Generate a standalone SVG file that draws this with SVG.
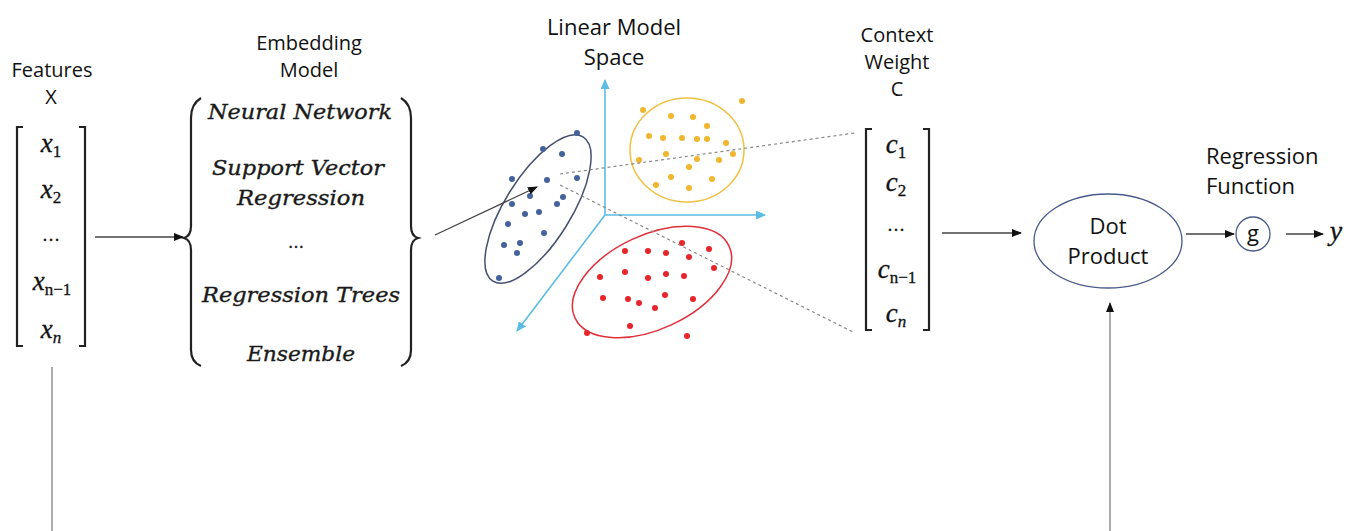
<svg xmlns="http://www.w3.org/2000/svg" width="1356" height="531" viewBox="0 0 1356 531">
<defs>
<style>
.lbl{font-family:"Open Sans",Lato,"Liberation Sans",sans-serif;font-size:20px;fill:#111;text-anchor:middle}
.big{font-size:22px}
.math{font-family:"Liberation Serif","DejaVu Serif",serif;font-style:italic;font-size:27px;fill:#111;text-anchor:middle;stroke:#111;stroke-width:0.3}
.emb{font-family:"DejaVu Serif","Liberation Serif",serif;font-style:italic;font-size:21px;fill:#1a1a1a;text-anchor:middle;stroke:#1a1a1a;stroke-width:0.35}
.sub{font-style:normal;font-size:17px}
.brk{fill:none;stroke:#222;stroke-width:2.2}
.arr{stroke:#444;stroke-width:1.3;fill:none;marker-end:url(#ah)}
.vline{stroke:#999;stroke-width:1.6;fill:none}
.axis{stroke:#5bbde3;stroke-width:1.6;fill:none;marker-end:url(#ax)}
.dash{stroke:#888;stroke-width:1.2;stroke-dasharray:3 3;fill:none}
.bd{fill:#44639c}
.yd{fill:#f0b62e}
.rd{fill:#e8242b}
</style>
<marker id="ah" markerWidth="10" markerHeight="8" refX="9" refY="4" orient="auto" markerUnits="userSpaceOnUse"><path d="M0,0 L10,4 L0,8 z" fill="#111"/></marker>
<marker id="ax" markerWidth="10" markerHeight="9" refX="9" refY="4.5" orient="auto" markerUnits="userSpaceOnUse"><path d="M0,0 L10,4.5 L0,9 z" fill="#5bbde3"/></marker>
</defs>
<rect width="1356" height="531" fill="#fff"/>

<g id="features">
<text class="lbl" x="52" y="77">Features</text>
<text class="lbl" x="51" y="104">X</text>
<path class="brk" d="M23 127 L17 127 L17 346 L23 346"/>
<path class="brk" d="M79 127 L85 127 L85 346 L79 346"/>
<text class="math" x="51" y="152">x<tspan class="sub" dy="5">1</tspan></text>
<text class="math" x="51" y="198">x<tspan class="sub" dy="5">2</tspan></text>
<text class="math" x="51" y="241" style="font-style:normal;font-size:18px">…</text>
<text class="math" x="52" y="290">x<tspan class="sub" dy="5">n−1</tspan></text>
<text class="math" x="51" y="338">x<tspan class="sub" dy="5" style="font-style:italic">n</tspan></text>
</g>

<g id="embedding">
<text class="lbl" x="309" y="50">Embedding</text>
<text class="lbl" x="309" y="77">Model</text>
<path class="brk" d="M201 98 Q191 104 191 118 L191 226 Q191 236 184 238 Q191 240 191 250 L191 350 Q191 362 201 366"/>
<path class="brk" d="M401 98 Q411 104 411 118 L411 226 Q411 236 418 238 Q411 240 411 250 L411 350 Q411 362 401 366"/>
<text class="emb" x="300" y="119" textLength="184" lengthAdjust="spacingAndGlyphs">Neural Network</text>
<text class="emb" x="298" y="175" textLength="172" lengthAdjust="spacingAndGlyphs">Support Vector</text>
<text class="emb" x="301" y="205" textLength="128" lengthAdjust="spacingAndGlyphs">Regression</text>
<text class="emb" x="296" y="248" style="font-style:normal;font-size:16px">…</text>
<text class="emb" x="301" y="302" textLength="198" lengthAdjust="spacingAndGlyphs">Regression Trees</text>
<text class="emb" x="301" y="361" textLength="108" lengthAdjust="spacingAndGlyphs">Ensemble</text>
</g>

<g id="linear-model-space">
<text class="lbl big" x="614" y="35">Linear Model</text>
<text class="lbl big" x="614" y="65">Space</text>
<line class="axis" x1="605" y1="215" x2="605" y2="80"/>
<line class="axis" x1="605" y1="215" x2="765" y2="215"/>
<line class="axis" x1="605" y1="215" x2="517" y2="331"/>
<ellipse cx="538" cy="209" rx="85" ry="33" transform="rotate(-58 538 209)" fill="none" stroke="#44506e" stroke-width="1.5"/>
<ellipse cx="687" cy="150" rx="57" ry="52" fill="none" stroke="#f0c040" stroke-width="1.5"/>
<ellipse cx="652" cy="282" rx="85" ry="47" transform="rotate(-25 652 282)" fill="none" stroke="#e0303a" stroke-width="1.5"/>
<g class="bd">
<circle cx="577" cy="133" r="3"/><circle cx="543" cy="149" r="3"/><circle cx="562" cy="154" r="3"/><circle cx="512" cy="179" r="3"/><circle cx="547" cy="180" r="3"/><circle cx="577" cy="178" r="3"/><circle cx="530" cy="196" r="3"/><circle cx="563" cy="197" r="3"/><circle cx="512" cy="204" r="3"/><circle cx="557" cy="204" r="3"/><circle cx="525" cy="214" r="3"/><circle cx="539" cy="212" r="3"/><circle cx="508" cy="224" r="3"/><circle cx="544" cy="233" r="3"/><circle cx="504" cy="245" r="3"/><circle cx="520" cy="243" r="3"/><circle cx="517" cy="253" r="3"/><circle cx="499" cy="278" r="3"/>
</g>
<g class="yd">
<circle cx="643" cy="110" r="3"/><circle cx="742" cy="101" r="3"/><circle cx="671" cy="116" r="3"/><circle cx="693" cy="117" r="3"/><circle cx="707" cy="126" r="3"/><circle cx="649" cy="136" r="3"/><circle cx="663" cy="138" r="3"/><circle cx="682" cy="138" r="3"/><circle cx="697" cy="139" r="3"/><circle cx="707" cy="139" r="3"/><circle cx="726" cy="143" r="3"/><circle cx="639" cy="160" r="3"/><circle cx="666" cy="154" r="3"/><circle cx="697" cy="159" r="3"/><circle cx="719" cy="160" r="3"/><circle cx="733" cy="154" r="3"/><circle cx="689" cy="167" r="3"/><circle cx="671" cy="177" r="3"/><circle cx="712" cy="179" r="3"/><circle cx="656" cy="185" r="3"/><circle cx="689" cy="188" r="3"/>
</g>
<g class="rd">
<circle cx="682" cy="243" r="3"/><circle cx="625" cy="251" r="3"/><circle cx="648" cy="251" r="3"/><circle cx="666" cy="253" r="3"/><circle cx="689" cy="257" r="3"/><circle cx="709" cy="249" r="3"/><circle cx="714" cy="268" r="3"/><circle cx="625" cy="272" r="3"/><circle cx="648" cy="278" r="3"/><circle cx="666" cy="274" r="3"/><circle cx="684" cy="276" r="3"/><circle cx="600" cy="277" r="3"/><circle cx="603" cy="298" r="3"/><circle cx="628" cy="299" r="3"/><circle cx="639" cy="303" r="3"/><circle cx="665" cy="295" r="3"/><circle cx="693" cy="299" r="3"/><circle cx="655" cy="308" r="3"/><circle cx="630" cy="326" r="3"/><circle cx="587" cy="333" r="3"/><circle cx="687" cy="336" r="3"/>
</g>
</g>

<g id="context-weight">
<text class="lbl" x="897" y="42">Context</text>
<text class="lbl" x="897" y="69">Weight</text>
<text class="lbl" x="897" y="96">C</text>
<path class="brk" d="M872 129 L866 129 L866 330 L872 330"/>
<path class="brk" d="M923 129 L929 129 L929 330 L923 330"/>
<text class="math" x="896" y="153">c<tspan class="sub" dy="5">1</tspan></text>
<text class="math" x="896" y="191">c<tspan class="sub" dy="5">2</tspan></text>
<text class="math" x="896" y="231" style="font-style:normal;font-size:18px">…</text>
<text class="math" x="897" y="278">c<tspan class="sub" dy="5">n−1</tspan></text>
<text class="math" x="896" y="322">c<tspan class="sub" dy="5" style="font-style:italic">n</tspan></text>
</g>

<g id="dot-product">
<ellipse cx="1108" cy="241" rx="74" ry="47" fill="none" stroke="#4a5a8a" stroke-width="1.3"/>
<text class="lbl big" x="1108" y="234">Dot</text>
<text class="lbl big" x="1108" y="264">Product</text>
</g>

<g id="regression-function">
<text class="lbl big" x="1206" y="164" style="text-anchor:start">Regression</text>
<text class="lbl big" x="1206" y="194" style="text-anchor:start">Function</text>
<circle cx="1253" cy="234" r="17" fill="none" stroke="#4a5a8a" stroke-width="1.3"/>
<text class="lbl big" x="1253" y="241">g</text>
</g>

<g id="output">
<text class="math" x="1336" y="240" style="font-size:28px">y</text>
</g>

<g id="connectors">
<line class="arr" x1="95" y1="237" x2="183" y2="237"/>
<line class="arr" x1="435" y1="235" x2="537" y2="187"/>
<line class="dash" x1="560" y1="174" x2="855" y2="133"/>
<line class="dash" x1="560" y1="185" x2="853" y2="332"/>
<line class="arr" x1="942" y1="233" x2="1021" y2="233"/>
<line class="arr" x1="1186" y1="234" x2="1234" y2="234"/>
<line class="arr" x1="1286" y1="234" x2="1323" y2="234"/>
<line class="vline" x1="52" y1="367" x2="52" y2="531"/>
<line class="vline" x1="1110" y1="531" x2="1110" y2="303" marker-end="url(#ah)"/>
</g>
</svg>
